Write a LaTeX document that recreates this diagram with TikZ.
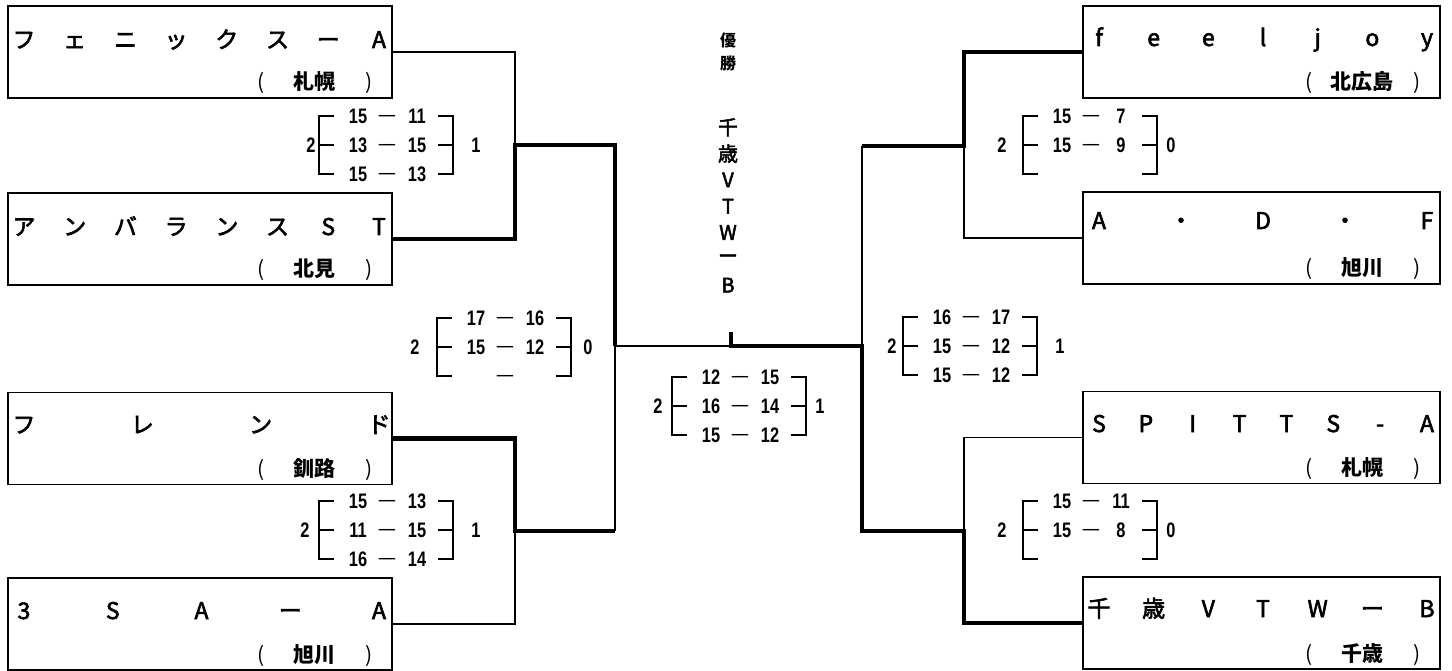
\documentclass[tikz,border=0pt]{standalone}
\usepackage{fontspec}
\setmainfont{Liberation Sans}
\newfontfamily\jpfont{Noto Sans CJK JP}
\newfontfamily\jpmid[FakeBold=2.5]{Noto Sans CJK JP}
\newfontfamily\scorefont[FakeStretch=0.78]{Liberation Sans}
\tikzset{
  brk box/.style={draw, line width=1.6pt, minimum height=92pt, inner sep=0pt},
  brk thin/.style={draw, line width=1.6pt},
  brk win/.style={draw, line width=4.5pt},
  brk bar/.style={draw, line width=1.5pt},
  brk name/.style={font=\jpmid\fontsize{23}{23}\selectfont, inner sep=0pt, anchor=base},
  brk area/.style={font=\jpfont\bfseries\fontsize{21}{21}\selectfont, inner sep=0pt},
  brk paren/.style={font=\jpfont\fontsize{21}{21}\selectfont, inner sep=0pt},
  brk champ/.style={font=\jpmid\fontsize{20}{20}\selectfont, inner sep=0pt},
  brk num/.style={font=\scorefont\bfseries\fontsize{21}{21}\selectfont, inner sep=0pt,
    text height=15pt, text depth=0pt},
}
% letters of a team name spread over the width of its box
\newcommand{\teamname}[6]{%
  \foreach \ch [count=\i] in {#6} {
    \pgfmathsetmacro{\chx}{#2+16+(\i-1)*(#3-#2-29)/(#5-1)}
    \node[brk name] (#1-\i) at (\chx,#4) {\ch};
  }
}
% home town line: ( city )
\newcommand{\teamarea}[4]{%
  \node[brk paren, anchor=base] (#1-open) at (#2-131,#3) {(};
  \node[brk area, anchor=base] (#1-city) at (#2-78,#3) {#4};
  \node[brk paren, anchor=base] (#1-close) at (#2-23,#3) {)};
}
% set scores between two brackets
\newcommand{\scoreblock}[8]{%
  \draw[brk bar] (#2+15,#3-29) -- (#2,#3-29) -- (#2,#3+29) -- (#2+15,#3+29);
  \draw[brk bar] (#2,#3) -- (#2+15,#3);
  \draw[brk bar] (#2+119,#3-29) -- (#2+134,#3-29) -- (#2+134,#3+29) -- (#2+119,#3+29);
  \draw[brk bar] (#2+119,#3) -- (#2+134,#3);
  \node[brk num] (#1-left) at (#2+#5,#3) {#4};
  \node[brk num] (#1-right) at (#2+#8,#3) {#7};
  \foreach \a/\b [count=\r] in {#6} {
    \node[brk num] (#1-\r a) at (#2+39,#3-58+29*\r) {\a};
    \node[brk num, font=\scorefont\fontsize{21}{21}\selectfont] (#1-\r d) at (#2+68,#3-58+29*\r) {\raisebox{0.08em}{—}};
    \node[brk num] (#1-\r b) at (#2+98,#3-58+29*\r) {\b};
  }
}

\begin{document}
\begin{tikzpicture}[x=1pt, y=-1pt]
  \useasboundingbox (0,0) rectangle (1452,671);

  % Team boxes, left half
  \node[brk box, minimum width=384pt] (L1) at (200,52) {};
  \node[brk box, minimum width=384pt] (L2) at (200,239) {};
  \node[brk box, minimum width=384pt] (L3) at (200,438.5) {};
  \node[brk box, minimum width=384pt] (L4) at (200,624) {};
  \teamname{L1}{8}{392}{48}{8}{フ,ェ,ニ,ッ,ク,ス,ー,A}
  \teamname{L2}{8}{392}{235}{8}{ア,ン,バ,ラ,ン,ス,S,T}
  \teamname{L3}{8}{392}{433}{4}{フ,レ,ン,ド}
  \teamname{L4}{8}{392}{619}{5}{3,S,A,ー,A}
  \teamarea{L1}{392}{90}{札幌}
  \teamarea{L2}{392}{277}{北見}
  \teamarea{L3}{392}{476.5}{釧路}
  \teamarea{L4}{392}{662}{旭川}

  % Team boxes, right half
  \node[brk box, minimum width=357pt] (R1) at (1261.5,52) {};
  \node[brk box, minimum width=357pt] (R2) at (1261.5,238) {};
  \node[brk box, minimum width=357pt] (R3) at (1261.5,437.5) {};
  \node[brk box, minimum width=357pt] (R4) at (1261.5,623) {};
  \teamname{R1}{1083}{1440}{46}{7}{f,e,e,l,j,o,y}
  \teamname{R2}{1083}{1440}{229}{5}{A,・,D,・,F}
  \teamname{R3}{1083}{1440}{432}{8}{S,P,I,T,T,S,-,A}
  \teamname{R4}{1083}{1440}{617}{7}{千,歳,V,T,W,ー,B}
  \teamarea{R1}{1440}{90}{北広島}
  \teamarea{R2}{1440}{276}{旭川}
  \teamarea{R3}{1440}{475.5}{札幌}
  \teamarea{R4}{1440}{661}{千歳}

  % Junctions of the tree
  \coordinate (qfL1) at (515,145);
  \coordinate (qfL2) at (515,531);
  \coordinate (sfL) at (615,346);
  \coordinate (sfL2) at (615,531);
  \coordinate (fin) at (731,346);
  \coordinate (fintop) at (731,332);
  \coordinate (sfR) at (862,346);
  \coordinate (sfR1) at (862,146);
  \coordinate (qfR1) at (964,146);
  \coordinate (qfR2) at (964,531);

  % Losing paths thin, winning paths thick
  \draw[brk thin] (L1.east) -| (qfL1);
  \draw[brk thin] (L4.east) -| (qfL2);
  \draw[brk thin] (sfL2) -- (sfL) -- (fin);
  \draw[brk thin] (R2.west) -| (qfR1);
  \draw[brk thin] (R3.west) -| (qfR2);
  \draw[brk thin] (sfR1) -- (sfR);
  \draw[brk win] (L2.east) -| (qfL1) -| (sfL);
  \draw[brk win] (L3.east) -| (qfL2) -- (sfL2);
  \draw[brk win] (R1.west) -| (qfR1) -- (sfR1);
  \draw[brk win] (fintop) |- (sfR) |- (qfR2) |- (R4.west);

  % Set scores
  \scoreblock{scL1}{319}{145}{2}{-8}{15/11,13/15,15/13}{1}{157}
  \scoreblock{scL2}{319}{530}{2}{-14}{15/13,11/15,16/14}{1}{157}
  \scoreblock{scL}{437}{347}{2}{-22}{17/16,15/12,{}/{}}{0}{151}
  \scoreblock{scF}{672}{406}{2}{-14}{12/15,16/14,15/12}{1}{148}
  \scoreblock{scR}{903}{346}{2}{-11}{16/17,15/12,15/12}{1}{157}
  \scoreblock{scR1}{1023}{145}{2}{-21}{15/7,15/9}{0}{148}
  \scoreblock{scR2}{1023}{530}{2}{-21}{15/11,15/8}{0}{148}

  % Champion, written top to bottom
  \node[brk champ, font=\jpfont\bfseries\fontsize{16}{16}\selectfont] (win-1) at (728,40) {優};
  \node[brk champ, font=\jpfont\bfseries\fontsize{16}{16}\selectfont] (win-2) at (728,63) {勝};
  \foreach \ch [count=\i] in {千,歳,V,T,W,ー,B} {
    \node[brk champ] (champ-\i) at (728,101+26.3*\i) {\ch};
  }
\end{tikzpicture}
\end{document}
